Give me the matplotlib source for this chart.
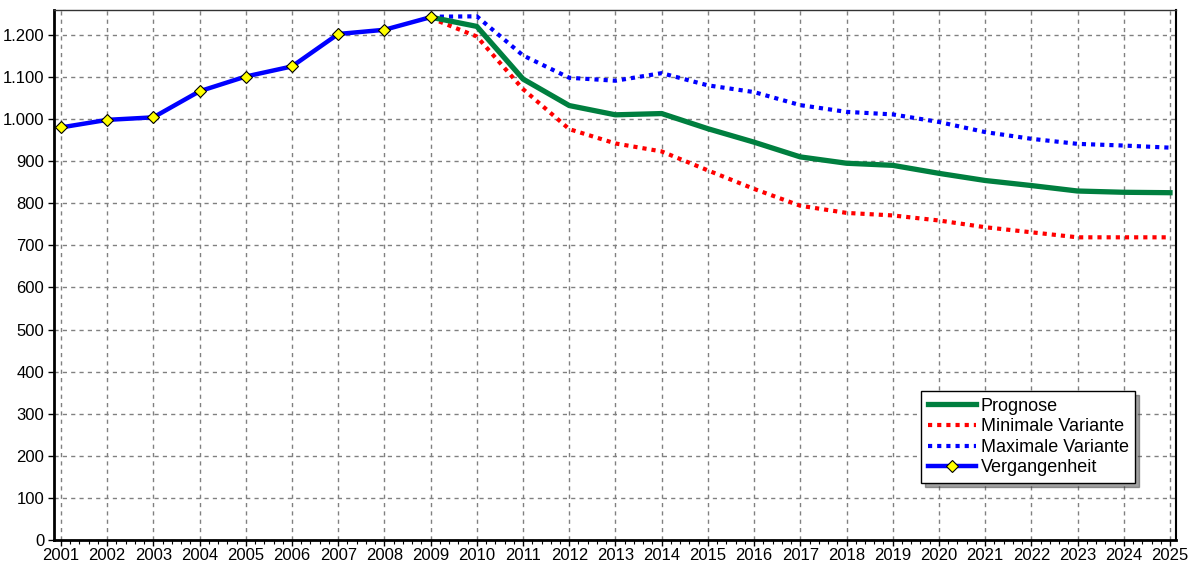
import numpy as np
import matplotlib.pyplot as plt
from matplotlib.ticker import FuncFormatter, MultipleLocator

plt.rcParams['font.family'] = ['Liberation Sans', 'DejaVu Sans']

jahre_hist = [2001, 2002, 2003, 2004, 2005, 2006, 2007, 2008, 2009]
vergangenheit = [980, 998, 1004, 1066, 1101, 1125, 1202, 1212, 1242]

jahre_prog = list(range(2009, 2026))
prognose = [1242, 1220, 1095, 1032, 1010, 1013, 977, 945, 910, 895, 890,
            871, 854, 842, 829, 826, 825]
minimal = [1240, 1196, 1071, 976, 942, 923, 878, 834, 794, 777, 771,
           759, 743, 731, 719, 719, 719]
maximal = [1243, 1244, 1151, 1098, 1091, 1109, 1080, 1064, 1033, 1017, 1011,
           993, 969, 953, 941, 937, 932]

fig = plt.figure(figsize=(11.88, 5.65), dpi=100)
ax = fig.add_axes([54/1188, 25/565, 1122/1188, 530/565])

ax.plot(jahre_prog, minimal, color='#ff0000', lw=3, ls=(0, (1, 1.2)),
        label='Minimale Variante', zorder=3)
ax.plot(jahre_prog, maximal, color='#0000ff', lw=3, ls=(0, (1, 1.2)),
        label='Maximale Variante', zorder=3)
ax.plot(jahre_prog, prognose, color='#007f3f', lw=3.8, label='Prognose',
        zorder=4)
ax.plot(jahre_hist, vergangenheit, color='#0000ff', lw=3.2, marker='D',
        ms=6.5, mfc='#ffff00', mec='black', mew=0.8, label='Vergangenheit',
        zorder=5)

ax.set_xlim(2000.85, 2025.13)
ax.set_ylim(0, 1259)
ax.set_xticks(range(2001, 2026))
ax.xaxis.set_minor_locator(MultipleLocator(0.2))
ax.yaxis.set_major_locator(MultipleLocator(100))
ax.yaxis.set_major_formatter(FuncFormatter(lambda v, p: f'{int(v):,}'.replace(',', '.')))
ax.tick_params(axis='both', labelsize=12, colors='black', length=4, width=1)
ax.tick_params(axis='x', which='minor', length=3, width=0.8)
ax.tick_params(axis='x', pad=2)
ax.tick_params(axis='y', pad=3)

ax.grid(True, which='major', ls=(0, (3, 3)), color='#808080', lw=1)

for s in ['left', 'bottom']:
    ax.spines[s].set_linewidth(2)
ax.spines['right'].set_linewidth(1.5)
ax.spines['top'].set_linewidth(1)
ax.spines['top'].set_color('#333333')

h, l = ax.get_legend_handles_labels()
order = [2, 0, 1, 3]
leg = ax.legend([h[i] for i in order], [l[i] for i in order],
                loc='lower left', bbox_to_anchor=(0.773, 0.108),
                fontsize=13, fancybox=False, shadow={'ox': 3, 'oy': -3, 'color': '#444444'},
                framealpha=1, edgecolor='black', handlelength=2.7,
                handletextpad=0.25, labelspacing=0.2, borderpad=0.35,
                borderaxespad=0)
leg.get_frame().set_linewidth(1)

fig.savefig('out.png', dpi=100)
